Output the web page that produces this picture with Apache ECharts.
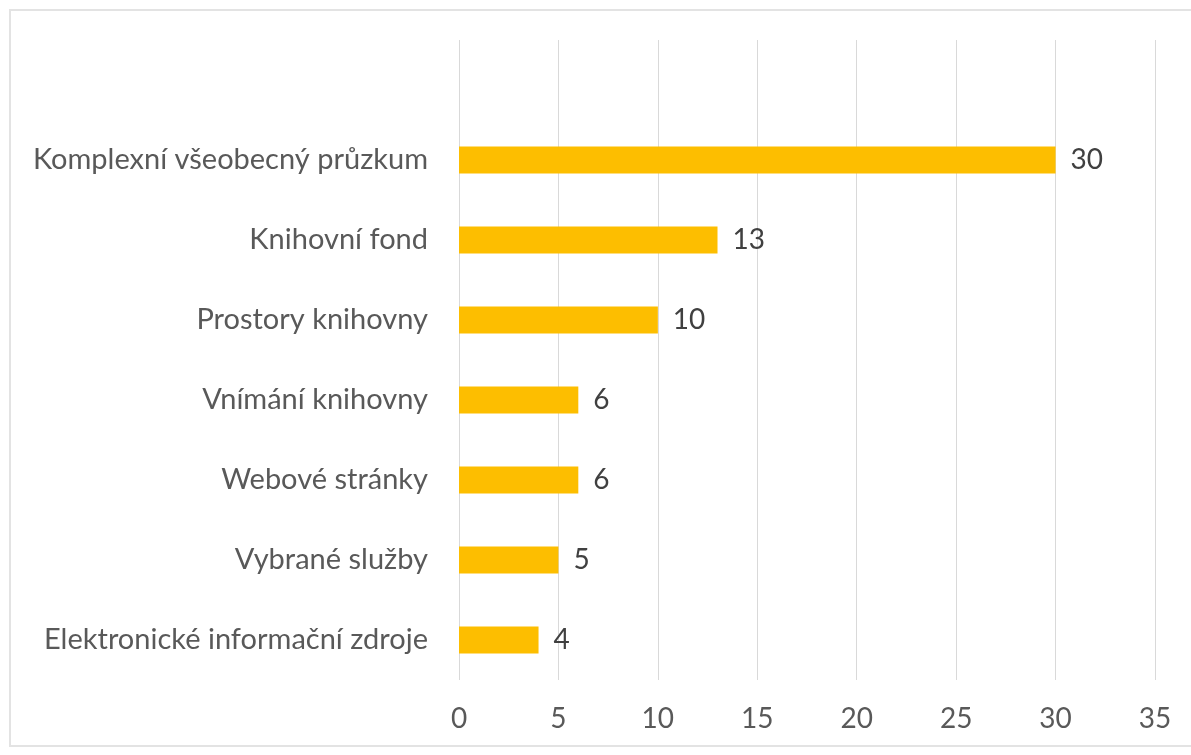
<!DOCTYPE html>
<html>
<head>
<meta charset="utf-8">
<script src="https://cdn.jsdelivr.net/npm/echarts@6/dist/echarts.min.js"></script>
<style>
  html, body { margin: 0; padding: 0; background: #ffffff; }
  #chart { width: 1191px; height: 755px; }
</style>
</head>
<body>
<div id="chart"></div>
<script>
// Categories listed bottom-to-top; the last entry is an empty slot that keeps headroom above the first bar
const categories = [
  'Elektronické informační zdroje',
  'Vybrané služby',
  'Webové stránky',
  'Vnímání knihovny',
  'Prostory knihovny',
  'Knihovní fond',
  'Komplexní všeobecný průzkum',
  ''
];
const counts = [4, 5, 6, 6, 10, 13, 30, null];
const xTicks = [0, 5, 10, 15, 20, 25, 30, 35];

const FONT = 'Lato, "Open Sans", sans-serif';

const chart = echarts.init(document.getElementById('chart'), null, { renderer: 'canvas' });
chart.setOption({
  animation: false,
  backgroundColor: '#ffffff',
  graphic: [{
    type: 'rect',
    shape: { x: 10, y: 10, width: 1200, height: 736 },
    style: { fill: 'none', stroke: '#e3e3e3', lineWidth: 2 },
    silent: true
  }],
  grid: { left: 459, right: 36, top: 40, bottom: 75, containLabel: false },
  xAxis: {
    type: 'value',
    min: xTicks[0],
    max: xTicks[xTicks.length - 1],
    interval: 5,
    axisLine: { show: false },
    axisTick: { show: false },
    splitLine: { show: true, lineStyle: { color: '#d9d9d9', width: 1 } },
    axisLabel: { color: '#595959', fontSize: 28, fontFamily: FONT, margin: 25 }
  },
  yAxis: {
    type: 'category',
    data: categories,
    axisLine: { show: false },
    axisTick: { show: false },
    axisLabel: { color: '#595959', fontSize: 29, fontFamily: FONT, margin: 31 }
  },
  series: [{
    type: 'bar',
    data: counts,
    barWidth: 27,
    itemStyle: { color: '#FDBE00' },
    label: {
      show: true,
      position: 'right',
      distance: 15,
      color: '#404040',
      fontSize: 28,
      fontFamily: FONT
    }
  }]
});
</script>
</body>
</html>
